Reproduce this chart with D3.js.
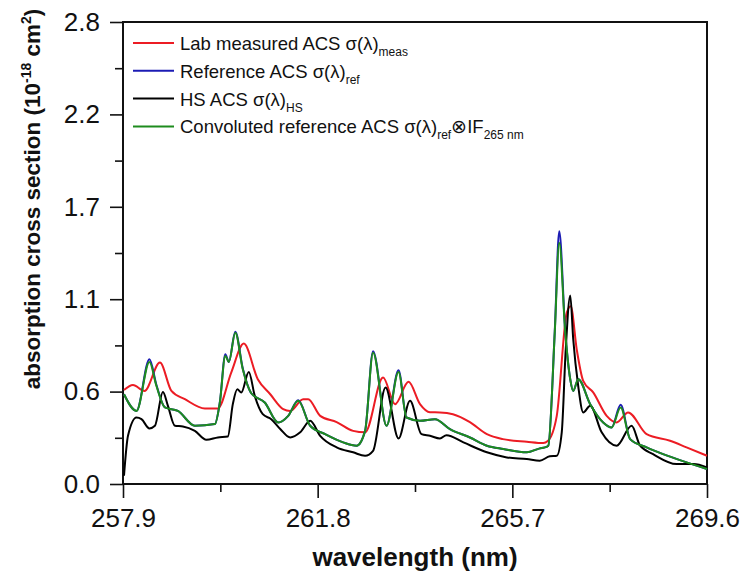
<!DOCTYPE html>
<html>
<head>
<meta charset="utf-8">
<script src="https://cdn.jsdelivr.net/npm/d3@7"></script>
<style>
    html, body { margin: 0; padding: 0; background: #fff; }
    svg { display: block; font-family: Arial, "Liberation Sans", sans-serif; }
</style>
</head>
<body>
<div id="chart"></div>
<script>
// wavelength (nm) / cross section (1e-18 cm2)
let red_wl = [257.92, 258.10, 258.33, 258.64, 258.87, 259.14, 259.54, 259.80, 260.07, 260.32, 260.60, 260.85, 261.11, 261.25, 261.51, 261.61, 261.85, 262.18, 262.51, 262.75, 263.11, 263.35, 263.62, 263.85, 264.05, 264.25, 264.51, 264.85, 265.19, 265.51, 265.99, 266.32, 266.41, 266.59, 266.79, 266.87, 266.99, 267.12, 267.32, 267.59, 267.79, 268.02, 268.39, 268.86, 269.19, 269.60];
let red_val = [0.570, 0.600, 0.564, 0.736, 0.564, 0.514, 0.458, 0.458, 0.677, 0.851, 0.635, 0.544, 0.454, 0.443, 0.514, 0.514, 0.413, 0.375, 0.322, 0.313, 0.645, 0.484, 0.619, 0.484, 0.435, 0.434, 0.423, 0.375, 0.302, 0.272, 0.256, 0.248, 0.260, 0.413, 1.038, 1.078, 0.816, 0.625, 0.555, 0.413, 0.373, 0.434, 0.302, 0.262, 0.222, 0.171];

let ref_wl = [257.92, 258.17, 258.43, 258.57, 258.74, 259.00, 259.34, 259.74, 259.84, 259.95, 260.02, 260.15, 260.30, 260.47, 260.74, 261.01, 261.21, 261.41, 261.65, 261.95, 262.31, 262.58, 262.75, 262.91, 263.18, 263.42, 263.58, 263.85, 264.15, 264.45, 264.85, 265.19, 265.52, 265.99, 266.25, 266.35, 266.42, 266.55, 266.64, 266.76, 266.86, 266.92, 267.02, 267.26, 267.52, 267.69, 267.87, 268.06, 268.39, 268.72, 269.19, 269.60];
let blue_val = [0.544, 0.443, 0.756, 0.600, 0.464, 0.443, 0.353, 0.363, 0.494, 0.786, 0.740, 0.923, 0.700, 0.550, 0.494, 0.373, 0.413, 0.507, 0.353, 0.302, 0.252, 0.232, 0.322, 0.804, 0.353, 0.689, 0.403, 0.383, 0.393, 0.333, 0.282, 0.232, 0.212, 0.192, 0.216, 0.222, 0.232, 0.925, 1.532, 0.925, 0.635, 0.564, 0.635, 0.484, 0.373, 0.343, 0.480, 0.272, 0.222, 0.181, 0.131, 0.091];
let green_val = [0.544, 0.443, 0.740, 0.594, 0.464, 0.443, 0.353, 0.363, 0.494, 0.776, 0.740, 0.917, 0.695, 0.550, 0.494, 0.373, 0.413, 0.504, 0.353, 0.302, 0.252, 0.232, 0.322, 0.796, 0.353, 0.679, 0.403, 0.383, 0.393, 0.333, 0.282, 0.232, 0.212, 0.192, 0.216, 0.222, 0.232, 0.919, 1.462, 0.919, 0.635, 0.564, 0.635, 0.484, 0.373, 0.343, 0.464, 0.272, 0.222, 0.181, 0.131, 0.091];

let hs_wl = [257.92, 258.00, 258.17, 258.27, 258.43, 258.54, 258.70, 258.80, 258.94, 259.10, 259.34, 259.57, 259.80, 260.00, 260.10, 260.19, 260.27, 260.42, 260.54, 260.70, 260.87, 261.05, 261.25, 261.45, 261.65, 261.85, 262.18, 262.51, 262.75, 262.91, 263.16, 263.42, 263.65, 263.88, 264.05, 264.25, 264.38, 264.72, 265.19, 265.59, 265.99, 266.25, 266.45, 266.59, 266.69, 266.77, 266.86, 266.92, 267.02, 267.12, 267.26, 267.49, 267.79, 268.09, 268.26, 268.52, 268.99, 269.33, 269.60];
let hs_val = [0.050, 0.292, 0.403, 0.393, 0.337, 0.353, 0.558, 0.474, 0.353, 0.349, 0.322, 0.268, 0.282, 0.288, 0.484, 0.574, 0.555, 0.679, 0.534, 0.423, 0.393, 0.333, 0.282, 0.313, 0.383, 0.292, 0.222, 0.192, 0.171, 0.201, 0.585, 0.276, 0.504, 0.302, 0.292, 0.276, 0.296, 0.252, 0.192, 0.161, 0.151, 0.141, 0.168, 0.171, 0.313, 0.816, 1.143, 0.877, 0.594, 0.434, 0.474, 0.313, 0.232, 0.353, 0.232, 0.181, 0.121, 0.121, 0.101];

let x_ticks = [257.9, 261.8, 265.7, 269.6];
let y_ticks = [0, 0.56, 1.12, 1.68, 2.24, 2.8];

let width = 743, height = 573;
let margin = {left: 123, right: 36, top: 22, bottom: 89};

let svg, x, y;

function initSvg() {
    svg = d3.select("#chart").append("svg")
        .attr("width", width)
        .attr("height", height);
}

function initScales() {
    x = d3.scaleLinear().domain([257.9, 269.6]).range([margin.left, width - margin.right]);
    y = d3.scaleLinear().domain([0, 2.8]).range([height - margin.bottom, margin.top]);
}

function drawAxes() {
    let x_minor = x_ticks.slice(1).map((d, i) => (d + x_ticks[i]) / 2);
    let y_minor = y_ticks.slice(1).map((d, i) => (d + y_ticks[i]) / 2);

    // minor ticks first, no labels
    svg.append("g")
        .attr("transform", "translate(0," + y.range()[0] + ")")
        .call(d3.axisBottom(x).tickValues(x_minor).tickSize(8).tickSizeOuter(0).tickFormat(""))
        .call(g => g.select(".domain").remove());
    svg.append("g")
        .attr("transform", "translate(" + x.range()[0] + ",0)")
        .call(d3.axisLeft(y).tickValues(y_minor).tickSize(8).tickSizeOuter(0).tickFormat(""))
        .call(g => g.select(".domain").remove());

    let gx = svg.append("g")
        .attr("class", "x_axis")
        .attr("transform", "translate(0," + y.range()[0] + ")")
        .call(d3.axisBottom(x).tickValues(x_ticks).tickSize(14).tickSizeOuter(0).tickPadding(11)
            .tickFormat(d => d.toFixed(1)));
    gx.selectAll("text").attr("font-size", 26).attr("fill", "#111");

    let gy = svg.append("g")
        .attr("class", "y_axis")
        .attr("transform", "translate(" + x.range()[0] + ",0)")
        .call(d3.axisLeft(y).tickValues(y_ticks).tickSize(13).tickSizeOuter(0).tickPadding(10)
            .tickFormat(d => d.toFixed(1)));
    gy.selectAll("text").attr("font-size", 26).attr("fill", "#111");

    svg.selectAll(".tick line").attr("stroke", "#111").attr("stroke-width", 1.6);

    //外框
    svg.append("rect")
        .attr("x", x.range()[0])
        .attr("y", y.range()[1])
        .attr("width", x.range()[1] - x.range()[0])
        .attr("height", y.range()[0] - y.range()[1])
        .attr("fill", "none")
        .attr("stroke", "#111")
        .attr("stroke-width", 2);

    // x title
    svg.append("text")
        .attr("x", 415)
        .attr("y", 566)
        .attr("text-anchor", "middle")
        .attr("font-size", 26)
        .attr("font-weight", "bold")
        .attr("fill", "#111")
        .text("wavelength (nm)");

    // y title, rotated
    let yt = svg.append("text")
        .attr("transform", "rotate(-90)")
        .attr("x", -199)
        .attr("y", 40)
        .attr("text-anchor", "middle")
        .attr("font-size", 22.5)
        .attr("font-weight", "bold")
        .attr("fill", "#111");
    yt.append("tspan").text("absorption cross section (10");
    yt.append("tspan").attr("font-size", 14).attr("dy", -9).text("-18");
    yt.append("tspan").attr("dy", 9).text(" cm");
    yt.append("tspan").attr("font-size", 14).attr("dy", -9).text("2");
    yt.append("tspan").attr("dy", 9).text(")");
}

function drawLines() {
    let series = [
        {wl: red_wl, val: red_val, color: "#ec1c24"},
        {wl: ref_wl, val: blue_val, color: "#1c1cb4"},
        {wl: hs_wl, val: hs_val, color: "#000000"},
        {wl: ref_wl, val: green_val, color: "#1e8c1e"}
    ];

    let line = d3.line()
        .x(d => x(d[0]))
        .y(d => y(d[1]))
        .curve(d3.curveMonotoneX);

    series.forEach(s => {
        let pts = s.wl.map((w, i) => [w, s.val[i]]);
        svg.append("path")
            .datum(pts)
            .attr("d", line)
            .attr("fill", "none")
            .attr("stroke", s.color)
            .attr("stroke-width", 2);
    });
}

function drawLegend() {
    let items = [
        {color: "#ec1c24", parts: [["Lab measured ACS σ(λ)", 0], ["meas", 1]]},
        {color: "#1c1cb4", parts: [["Reference ACS σ(λ)", 0], ["ref", 1]]},
        {color: "#000000", parts: [["HS ACS σ(λ)", 0], ["HS", 1]]},
        {color: "#1e8c1e", parts: [["Convoluted reference ACS σ(λ)", 0], ["ref", 1], ["⊗IF", 0], ["265 nm", 1]]}
    ];
    let lg_y0 = 43, lg_step = 27.8;

    let lg = svg.append("g").attr("class", "legend");
    items.forEach((d, i) => {
        let cy = lg_y0 + i * lg_step;
        lg.append("line")
            .attr("x1", 133).attr("x2", 174)
            .attr("y1", cy).attr("y2", cy)
            .attr("stroke", d.color)
            .attr("stroke-width", 2);
        let t = lg.append("text")
            .attr("x", 180)
            .attr("y", cy + 7)
            .attr("font-size", 18.5)
            .attr("fill", "#111");
        let sub = 0;
        d.parts.forEach(p => {
            let dy = p[1] ? 6 - sub : -sub;
            sub = p[1] ? 6 : 0;
            t.append("tspan")
                .attr("dy", dy)
                .attr("font-size", p[1] ? 12 : 18.5)
                .text(p[0]);
        });
    });
}

function draw() {
    initSvg();
    initScales();
    drawAxes();
    drawLines();
    drawLegend();
}
draw();
</script>
</body>
</html>
